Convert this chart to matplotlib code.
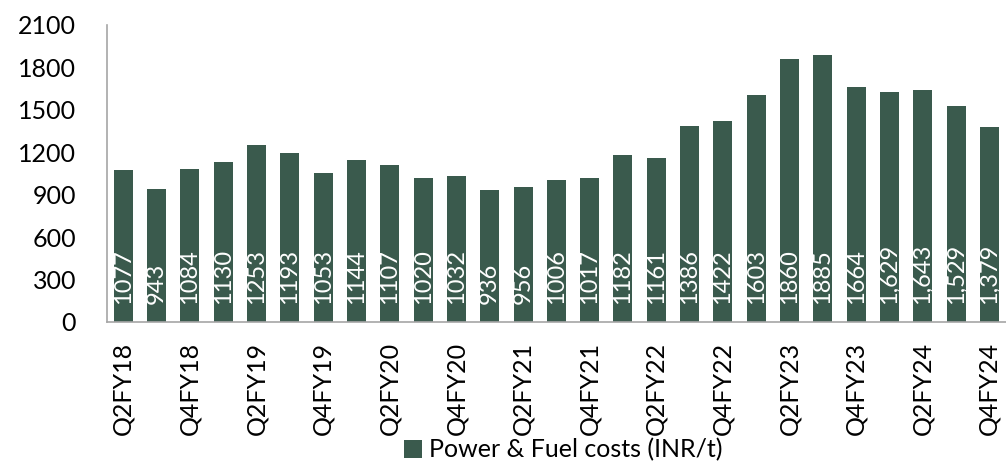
import matplotlib
matplotlib.use("Agg")
import matplotlib.pyplot as plt
import numpy as np

quarters = ["Q2FY18", "Q3FY18", "Q4FY18",
            "Q1FY19", "Q2FY19", "Q3FY19", "Q4FY19",
            "Q1FY20", "Q2FY20", "Q3FY20", "Q4FY20",
            "Q1FY21", "Q2FY21", "Q3FY21", "Q4FY21",
            "Q1FY22", "Q2FY22", "Q3FY22", "Q4FY22",
            "Q1FY23", "Q2FY23", "Q3FY23", "Q4FY23",
            "Q1FY24", "Q2FY24", "Q3FY24", "Q4FY24"]
power_fuel = [1077, 943, 1084, 1130, 1253, 1193, 1053, 1144, 1107, 1020, 1032, 936, 956,
              1006, 1017, 1182, 1161, 1386, 1422, 1603, 1860, 1885, 1664, 1629, 1643, 1529, 1379]
# the last few labels were shown with a thousands separator in the source
bar_labels = [str(v) for v in power_fuel[:23]] + ["1,629", "1,643", "1,529", "1,379"]
y_ticks = [0, 300, 600, 900, 1200, 1500, 1800, 2100]

plt.rcParams['font.family'] = ['Lato', 'DejaVu Sans']
bar_color = '#3a5a4d'

fig = plt.figure(figsize=(10.06, 4.70), dpi=100)
ax = fig.add_axes([0.106, 0.315, 0.894, 0.632])

x = np.arange(len(quarters))
bars = ax.bar(x, power_fuel, width=0.57, color=bar_color, label='Power & Fuel costs (INR/t)')

for xi, lab in zip(x, bar_labels):
    ax.annotate(lab, (xi, 0), xytext=(0, 13), textcoords='offset points',
                rotation=90, ha='center', va='bottom', color='white',
                fontsize=17)

ax.set_xlim(-0.5, len(quarters) - 0.5)
ax.set_ylim(0, 2100)
ax.set_yticks(y_ticks)
ax.set_xticks(x[::2])
ax.set_xticklabels(quarters[::2], rotation=90)
ax.tick_params(axis='y', length=0, pad=22, labelsize=18)
ax.tick_params(axis='x', length=0, pad=14, labelsize=18)

for side in ['top', 'right']:
    ax.spines[side].set_visible(False)
ax.spines['left'].set_color('#a6a6a6')
ax.spines['bottom'].set_color('#a6a6a6')
ax.spines['left'].set_linewidth(1.2)
ax.spines['bottom'].set_linewidth(1.2)

fig.legend(handles=[bars], loc='lower center', bbox_to_anchor=(0.56, -0.03),
           frameon=False, fontsize=18, handlelength=0.7, handleheight=0.7,
           handletextpad=0.3)

fig.savefig('out.png', dpi=100)
